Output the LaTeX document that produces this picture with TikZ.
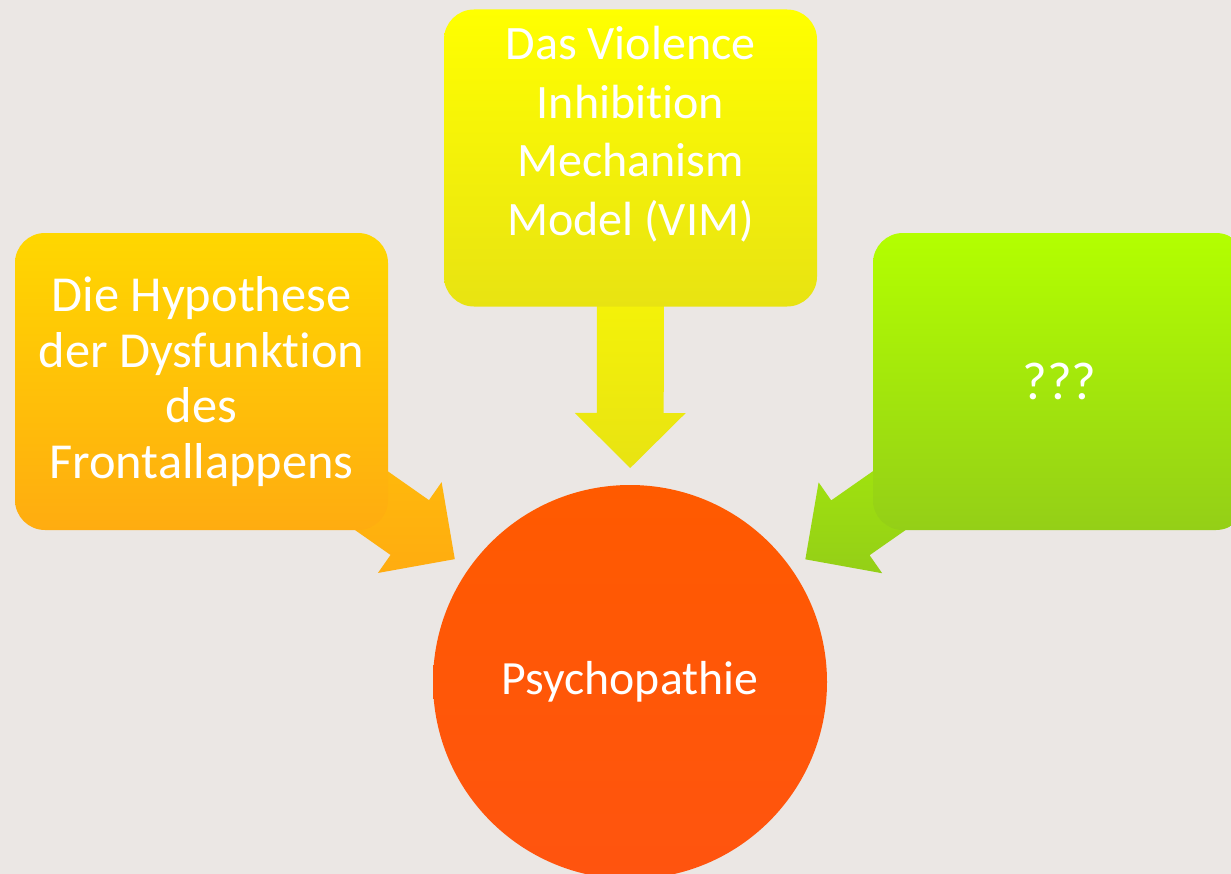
\documentclass[tikz,border=0pt]{standalone}
\usepackage{fontspec}
\setmainfont{Carlito}[Ligatures=NoCommon]
\usetikzlibrary{calc,backgrounds}

\definecolor{bg_col}{HTML}{EBE7E4}
\definecolor{hyp_top}{HTML}{FFD700}
\definecolor{hyp_bot}{HTML}{FFAC10}
\definecolor{vim_top}{HTML}{FFFF00}
\definecolor{vim_bot}{HTML}{E8E312}
\definecolor{qqq_top}{HTML}{B3FF00}
\definecolor{qqq_bot}{HTML}{94CF17}
\definecolor{psy_top}{HTML}{FF5A00}
\definecolor{psy_bot}{HTML}{FF540F}

% block arrow from #1 to #2, shaded #3 -> #4
\newcommand{\blockarrow}[4]{%
  \shade[top color=#3, bottom color=#4]
    let \p1=(#1), \p2=(#2), \n1={atan2(\y2-\y1,\x2-\x1)} in
    ($(\p1)+(\n1+90:25.1pt)$) --
    ($(\p2)+(\n1+180:41.25pt)+(\n1+90:25.1pt)$) --
    ($(\p2)+(\n1+180:41.25pt)+(\n1+90:41.6pt)$) --
    (\p2) --
    ($(\p2)+(\n1+180:41.25pt)+(\n1-90:41.6pt)$) --
    ($(\p2)+(\n1+180:41.25pt)+(\n1-90:25.1pt)$) --
    ($(\p1)+(\n1-90:25.1pt)$) -- cycle;
}

\begin{document}
\begin{tikzpicture}[x=0.75pt, y=-0.75pt,
    box_style/.style={rounded corners=22.5pt, minimum width=279.75pt, minimum height=222.75pt, inner sep=0pt, text=white, align=center, font=\fontsize{37.8}{41.8}\selectfont},
    circle_style/.style={circle, minimum size=295.5pt, inner sep=0pt, top color=psy_top, bottom color=psy_bot, text=white, font=\fontsize{35.8}{40}\selectfont},
    text_style/.style={text=white, align=center, inner sep=0pt, font=\fontsize{36}{44}\selectfont}]
  \useasboundingbox (0,0) rectangle (1231,874);

  \node[circle_style] (psy) at (630,682) {Psychopathie};
  \node[box_style, top color=hyp_top, bottom color=hyp_bot] (hyp) at (201.5,381.5) {Die Hypothese\\der Dysfunktion\\des\\Frontallappens};
  \node[box_style, top color=vim_top, bottom color=vim_bot] (vim) at (630.5,158) {};
  \node[text_style] (vimtext) at (630.5,134) {Das Violence\\Inhibition\\Mechanism\\Model (VIM)};
  \node[box_style, top color=qqq_top, bottom color=qqq_bot, font=\fontsize{40}{44}\selectfont] (qqq) at (1059.5,381.5) {???};

  \coordinate (tip_hyp) at ($(psy.center)!160.5pt!(hyp.center)$);
  \coordinate (tip_vim) at ($(psy.center)!160.5pt!(vim.center)$);
  \coordinate (tip_qqq) at ($(psy.center)!160.5pt!(qqq.center)$);

  \begin{scope}[on background layer]
    \fill[bg_col] (0,0) rectangle (1231,874);
    \blockarrow{hyp.center}{tip_hyp}{hyp_top!60!hyp_bot}{hyp_bot}
    \blockarrow{vim.center}{tip_vim}{vim_top}{vim_bot}
    \blockarrow{qqq.center}{tip_qqq}{qqq_top!80!qqq_bot}{qqq_bot}
  \end{scope}
\end{tikzpicture}
\end{document}
